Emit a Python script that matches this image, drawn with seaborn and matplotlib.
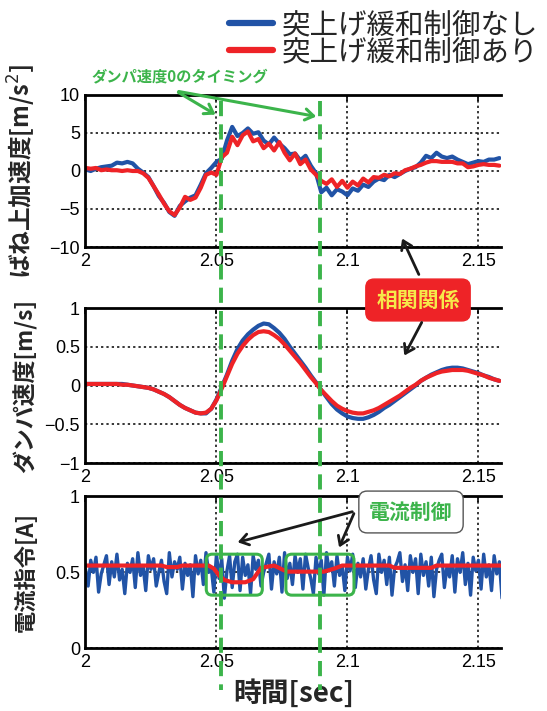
import numpy as np
import pandas as pd
import seaborn as sns
import matplotlib.pyplot as plt
import matplotlib.transforms as mtransforms
from matplotlib.lines import Line2D
from matplotlib.patches import FancyArrowPatch, FancyBboxPatch

# %% data (time offset in ms from 2.0 s)
t_ms = np.arange(0, 160, 2)

acc_off = [0.2, 0.0, 0.3, 0.5, 0.6, 0.7, 1.1, 1.0, 1.2, 1.0,
           0.3, -0.2, -0.8, -2.0, -3.3, -4.2, -5.4, -5.9, -4.6, -4.0,
           -3.5, -3.2, -1.8, -0.3, 0.4, 1.2, 1.6, 4.0, 5.8, 4.6,
           5.0, 5.6, 4.9, 5.1, 4.0, 3.5, 4.4, 3.6, 3.0, 2.2,
           2.3, 1.4, 2.0, 0.7, -0.3, -2.8, -2.2, -3.2, -2.4, -2.7,
           -3.2, -2.3, -2.6, -1.8, -2.1, -1.4, -1.0, -1.2, -0.5, -0.8,
           -0.4, 0.0, 0.3, 0.5, 1.1, 2.0, 1.7, 2.4, 1.9, 1.7,
           1.9, 1.5, 1.2, 0.9, 1.1, 1.3, 1.2, 1.5, 1.5, 1.7]
acc_on = [0.4, 0.3, 0.4, 0.1, 0.2, 0.1, 0.1, 0.0, 0.1, 0.0,
          0.0, -0.3, -0.9, -2.0, -3.1, -4.3, -5.3, -5.8, -4.8, -3.4,
          -3.8, -3.5, -2.2, -0.5, -0.2, -0.5, 1.8, 2.4, 4.5, 3.4,
          4.7, 5.2, 3.9, 4.2, 3.0, 3.6, 2.7, 3.8, 2.4, 1.4,
          2.3, 0.9, 1.5, 0.2, -0.5, -1.3, -1.7, -1.1, -2.1, -1.3,
          -2.2, -1.4, -1.9, -1.0, -1.5, -0.8, -0.9, -0.5, -0.7, -0.3,
          -0.4, 0.1, 0.3, 0.6, 0.8, 1.1, 1.3, 1.3, 1.2, 1.2,
          1.2, 1.0, 1.0, 0.5, 0.6, 0.8, 0.9, 0.8, 0.8, 0.7]

vel_off = [0.02, 0.02, 0.02, 0.02, 0.02, 0.02, 0.02, 0.02, 0.01, 0.0,
           -0.01, -0.02, -0.03, -0.05, -0.08, -0.11, -0.15, -0.2, -0.25, -0.29,
           -0.32, -0.35, -0.36, -0.36, -0.3, -0.18, -0.02, 0.14, 0.32, 0.47,
           0.58, 0.66, 0.72, 0.77, 0.8, 0.79, 0.74, 0.68, 0.6, 0.5,
           0.41, 0.32, 0.23, 0.13, 0.04, -0.06, -0.15, -0.24, -0.31, -0.36,
           -0.4, -0.42, -0.43, -0.43, -0.41, -0.38, -0.34, -0.29, -0.25, -0.2,
           -0.15, -0.1, -0.05, 0.0, 0.06, 0.1, 0.14, 0.17, 0.2, 0.22,
           0.23, 0.23, 0.22, 0.2, 0.18, 0.16, 0.13, 0.11, 0.08, 0.06]
vel_on = [0.02, 0.02, 0.02, 0.02, 0.02, 0.02, 0.02, 0.01, 0.01, 0.0,
          -0.01, -0.02, -0.03, -0.05, -0.08, -0.11, -0.15, -0.2, -0.25, -0.29,
          -0.32, -0.35, -0.36, -0.35, -0.3, -0.19, -0.04, 0.12, 0.28, 0.41,
          0.51, 0.59, 0.65, 0.69, 0.7, 0.69, 0.65, 0.6, 0.53, 0.45,
          0.37, 0.29, 0.2, 0.11, 0.03, -0.06, -0.13, -0.2, -0.26, -0.3,
          -0.33, -0.35, -0.36, -0.36, -0.34, -0.32, -0.29, -0.25, -0.21, -0.17,
          -0.13, -0.08, -0.03, 0.01, 0.06, 0.1, 0.13, 0.16, 0.18, 0.19,
          0.2, 0.2, 0.2, 0.19, 0.17, 0.15, 0.13, 0.1, 0.08, 0.06]

# current command, 1 ms samples
cur_t_ms = np.arange(0, 160, 1)
cur_off = [0.52, 0.41, 0.58, 0.50, 0.60, 0.37, 0.49, 0.55, 0.61, 0.42, 0.57, 0.47, 0.62, 0.45, 0.52, 0.36, 0.56, 0.50, 0.59, 0.40,
           0.63, 0.48, 0.54, 0.38, 0.61, 0.52, 0.59, 0.41, 0.50, 0.58, 0.44, 0.36, 0.63, 0.47, 0.57, 0.52, 0.60, 0.39, 0.56, 0.48,
           0.55, 0.34, 0.61, 0.49, 0.58, 0.42, 0.63, 0.50, 0.53, 0.37, 0.62, 0.46, 0.59, 0.33, 0.51, 0.61, 0.40, 0.57, 0.62, 0.38,
           0.60, 0.48, 0.55, 0.36, 0.61, 0.52, 0.58, 0.41, 0.50, 0.56, 0.62, 0.39, 0.57, 0.49, 0.60, 0.37, 0.63, 0.46, 0.56, 0.42,
           0.61, 0.50, 0.59, 0.39, 0.62, 0.53, 0.46, 0.36, 0.60, 0.49, 0.58, 0.35, 0.63, 0.51, 0.57, 0.41, 0.61, 0.48, 0.54, 0.38,
           0.60, 0.51, 0.62, 0.40, 0.56, 0.47, 0.59, 0.39, 0.52, 0.61, 0.45, 0.36, 0.62, 0.50, 0.58, 0.42, 0.60, 0.35, 0.53, 0.57,
           0.63, 0.44, 0.55, 0.38, 0.61, 0.50, 0.59, 0.36, 0.62, 0.48, 0.57, 0.41, 0.60, 0.34, 0.52, 0.58, 0.62, 0.40, 0.54, 0.47,
           0.61, 0.37, 0.59, 0.50, 0.63, 0.42, 0.56, 0.35, 0.60, 0.51, 0.58, 0.39, 0.62, 0.47, 0.55, 0.38, 0.61, 0.49, 0.57, 0.33]
cur_on_t_ms = [0, 29, 31, 35, 37, 47, 49, 51, 53, 56, 61, 64, 67, 72, 75, 77, 91, 95, 98, 116, 118, 132, 134, 159]
cur_on = [0.545, 0.545, 0.535, 0.535, 0.545, 0.545, 0.525, 0.48, 0.45, 0.435, 0.435, 0.455, 0.53, 0.545,
          0.52, 0.505, 0.505, 0.525, 0.545, 0.545, 0.53, 0.53, 0.545, 0.545]

label_off = '突上げ緩和制御なし'
label_on = '突上げ緩和制御あり'
zero_vel_times = [2.0518, 2.0896]
box_times = [(2.0461, 2.0675), (2.0765, 2.1025)]
box_current = (0.35, 0.62)

xticks = [2, 2.05, 2.1, 2.15]
xticklabels = ['2', '2.05', '2.1', '2.15']

# %% tidy frames
df_acc = pd.concat([
    pd.DataFrame({'time': 2 + t_ms / 1000, 'value': acc_off, 'case': label_off}),
    pd.DataFrame({'time': 2 + t_ms / 1000, 'value': acc_on, 'case': label_on})], ignore_index=True)
df_vel = pd.concat([
    pd.DataFrame({'time': 2 + t_ms / 1000, 'value': vel_off, 'case': label_off}),
    pd.DataFrame({'time': 2 + t_ms / 1000, 'value': vel_on, 'case': label_on})], ignore_index=True)
df_cur = pd.concat([
    pd.DataFrame({'time': 2 + cur_t_ms / 1000, 'value': cur_off, 'case': label_off}),
    pd.DataFrame({'time': 2 + np.array(cur_on_t_ms) / 1000, 'value': cur_on, 'case': label_on})], ignore_index=True)

# %% plot
sns.set_style('white')
plt.rcParams['font.family'] = ['Liberation Sans', 'Noto Sans CJK JP', 'DejaVu Sans']
plt.rcParams['axes.unicode_minus'] = True

blue = '#2153a6'
red = '#ee2327'
green = '#3cb44b'
palette = {label_off: blue, label_on: red}
jp = ['Noto Sans CJK JP', 'DejaVu Sans']

fig = plt.figure(figsize=(5.47, 7.11), dpi=100)
W, H = 547, 711


def fp(x, y):
    return (x / W, 1 - y / H)


ax1 = fig.add_axes([0.1563, 0.6526, 0.7605, 0.2138])
ax2 = fig.add_axes([0.1563, 0.3488, 0.7605, 0.218])
ax3 = fig.add_axes([0.1563, 0.0882, 0.7605, 0.2135])

specs = [
    (ax1, df_acc, (-10, 10), [-10, -5, 0, 5, 10], ['−10', '−5', '0', '5', '10'], 'ばね上加速度[m/s$^2$]', 3, 17),
    (ax2, df_vel, (-1, 1), [-1, -0.5, 0, 0.5, 1], ['−1', '−0.5', '0', '0.5', '1'], 'ダンパ速度[m/s]', 3, 16.5),
    (ax3, df_cur, (0, 1), [0, 0.5, 1], ['0', '0.5', '1'], '電流指令[A]', 2.4, 16),
]
for ax, df, ylim, yt, ytl, ylab, lw, fs in specs:
    sns.lineplot(data=df, x='time', y='value', hue='case', palette=palette,
                 hue_order=[label_off, label_on], linewidth=lw, legend=False, ax=ax)
    ax.set_xlim(2, 2.1588)
    ax.set_ylim(*ylim)
    ax.set_xticks(xticks)
    ax.set_xticklabels(xticklabels)
    ax.set_yticks(yt)
    ax.set_yticklabels(ytl)
    ax.grid(True, color='black', linestyle=(0, (1.5, 2)), linewidth=1.1)
    ax.set_axisbelow(True)
    ax.tick_params(direction='in', length=4, width=1.2, top=True, right=False,
                   labelsize=13, pad=4, colors='black')
    for s in ['left', 'bottom', 'top']:
        ax.spines[s].set_linewidth(2)
        ax.spines[s].set_color('black')
    ax.spines['right'].set_visible(False)
    ax.set_xlabel('')
    ax.set_ylabel(ylab, fontsize=fs, fontweight='bold', family=jp)
    ax.yaxis.set_label_coords(-0.115, 0.5)

# red line on top in current panel
ax3.lines[1].set_linewidth(3)
ax3.set_xlabel('時間[sec]', fontsize=20, fontweight='bold', family=jp, labelpad=6)

# green boxes around control regions (drawn in pixels so corners stay round)
for t0, t1 in box_times:
    p0 = ax3.transData.transform((t0, box_current[0]))
    p1 = ax3.transData.transform((t1, box_current[1]))
    fig.patches.append(FancyBboxPatch(p0, p1[0] - p0[0], p1[1] - p0[1],
                                      boxstyle='round,pad=0,rounding_size=6',
                                      transform=mtransforms.IdentityTransform(),
                                      fill=False, edgecolor=green, linewidth=2.2, zorder=5))

# damper velocity zero timing lines across all panels
trans = mtransforms.blended_transform_factory(ax1.transData, fig.transFigure)
for tz in zero_vel_times:
    fig.add_artist(Line2D([tz, tz], [fp(0, 101)[1], fp(0, 690)[1]], transform=trans,
                          color=green, linewidth=2.8, linestyle=(0, (3.9, 2.1)), zorder=6))

fig.text(*fp(180, 76), 'ダンパ速度0のタイミング', color=green, fontsize=11,
         fontweight='bold', family=jp, ha='center', va='center')
for end in [(218, 116), (319, 117)]:
    fig.add_artist(FancyArrowPatch(fp(176, 91), fp(*end), transform=fig.transFigure,
                                   arrowstyle='->,head_length=6,head_width=4',
                                   color=green, linewidth=2.2, zorder=7))

# correlation callout
fig.text(*fp(418, 300), '相関関係', color='#f6e94a', fontsize=15, fontweight='bold',
         family=jp, ha='center', va='center',
         bbox=dict(boxstyle='round,pad=0.5,rounding_size=0.4', facecolor=red, edgecolor=red))
for start, end in [((420, 277), (401, 236)), ((423, 320), (403, 358))]:
    fig.add_artist(FancyArrowPatch(fp(*start), fp(*end), transform=fig.transFigure,
                                   arrowstyle='->,head_length=6,head_width=4',
                                   color='#1a1a1a', linewidth=2, zorder=7))

# current control callout
fig.text(*fp(411, 512), '電流制御', color=green, fontsize=15, fontweight='bold',
         family=jp, ha='center', va='center',
         bbox=dict(boxstyle='round,pad=0.5,rounding_size=0.4', facecolor='white',
                   edgecolor='#555555', linewidth=1))
for end in [(235, 543), (338, 550)]:
    fig.add_artist(FancyArrowPatch(fp(355, 511), fp(*end), transform=fig.transFigure,
                                   arrowstyle='->,head_length=6,head_width=4',
                                   color='#1a1a1a', linewidth=2, zorder=7))

handles = [Line2D([], [], color=blue, linewidth=4.5), Line2D([], [], color=red, linewidth=4.5)]
fig.legend(handles, [label_off, label_on], loc='upper left', bbox_to_anchor=fp(229, 10),
           frameon=False, prop={'family': jp, 'size': 20.5}, handlelength=1.55,
           handletextpad=0.3, labelspacing=-0.1, borderpad=0, borderaxespad=0)

fig.savefig('out.png', dpi=100)
